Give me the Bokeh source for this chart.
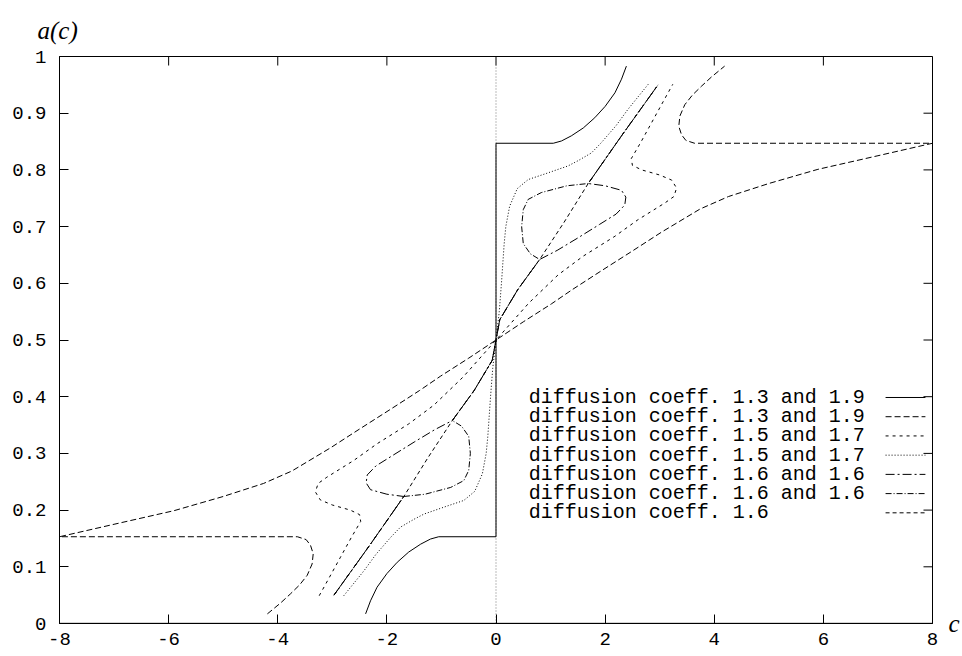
from bokeh.plotting import figure
from bokeh.models import FixedTicker, LinearAxis, Title
from bokeh.core.properties import value
from bokeh.embed import file_html
from bokeh.resources import INLINE

# ---------------- data ----------------
x_ticks = [-8, -6, -4, -2, 0, 2, 4, 6, 8]
x_tick_labels = ["-8", "-6", "-4", "-2", "0", "2", "4", "6", "8"]
y_ticks = [0, 0.1, 0.2, 0.3, 0.4, 0.5, 0.6, 0.7, 0.8, 0.9, 1]
y_tick_labels = ["0", "0.1", "0.2", "0.3", "0.4", "0.5", "0.6", "0.7", "0.8", "0.9", "1"]
x_name = "c"
y_name = "a(c)"

legend_labels = [
    "diffusion coeff. 1.3 and 1.9",
    "diffusion coeff. 1.3 and 1.9",
    "diffusion coeff. 1.5 and 1.7",
    "diffusion coeff. 1.5 and 1.7",
    "diffusion coeff. 1.6 and 1.6",
    "diffusion coeff. 1.6 and 1.6",
    "diffusion coeff. 1.6",
]

# 1.3 and 1.9 (solid)
s1_x = [-2.39, -2.30, -2.18, -2.00, -1.81, -1.60, -1.38, -1.20, -1.05, 0.0,
        0.0, 1.05, 1.20, 1.38, 1.60, 1.81, 2.00, 2.18, 2.30, 2.39]
s1_y = [0.017, 0.040, 0.064, 0.088, 0.108, 0.126, 0.140, 0.149, 0.153, 0.153,
        0.847, 0.847, 0.851, 0.860, 0.874, 0.892, 0.912, 0.936, 0.960, 0.983]

# 1.3 and 1.9 (dashed)
s2_x = [-4.19, -3.95, -3.77, -3.60, -3.46, -3.37, -3.35, -3.40, -3.48, -3.64,
        -8.00, -7.00, -5.90, -5.00, -4.26, -3.74, -3.03, -2.50, -1.93, -1.40,
        -1.02, -0.50, 0.00, 0.50, 1.02, 1.40, 1.93, 2.50, 3.03, 3.74,
        4.26, 5.00, 5.90, 7.00, 8.00, 3.64, 3.48, 3.40, 3.35, 3.37,
        3.46, 3.60, 3.77, 3.95, 4.19]
s2_y = [0.017, 0.036, 0.052, 0.068, 0.085, 0.105, 0.123, 0.138, 0.148, 0.153,
        0.153, 0.175, 0.199, 0.224, 0.247, 0.269, 0.310, 0.343, 0.378, 0.411,
        0.436, 0.468, 0.500, 0.532, 0.564, 0.589, 0.622, 0.657, 0.690, 0.731,
        0.753, 0.776, 0.801, 0.825, 0.847, 0.847, 0.852, 0.862, 0.877, 0.895,
        0.915, 0.932, 0.948, 0.964, 0.983]

# 1.5 and 1.7 (short dashes)
s3_x = [-3.24, -3.05, -2.85, -2.65, -2.48, -2.50, -2.67, -3.00, -3.22, -3.31,
        -3.26, -3.10, -2.60, -2.18, -1.60, -1.14, -0.60, 0.00, 0.60, 1.14,
        1.60, 2.18, 2.60, 3.10, 3.26, 3.31, 3.22, 3.00, 2.67, 2.50,
        2.48, 2.65, 2.85, 3.05, 3.24]
s3_y = [0.049, 0.082, 0.117, 0.152, 0.180, 0.192, 0.200, 0.209, 0.218, 0.232,
        0.247, 0.258, 0.288, 0.317, 0.352, 0.385, 0.435, 0.500, 0.565, 0.615,
        0.648, 0.683, 0.712, 0.742, 0.753, 0.768, 0.782, 0.791, 0.800, 0.808,
        0.820, 0.848, 0.883, 0.918, 0.951]

# 1.5 and 1.7 (dotted)
s4_x = [-2.79, -2.42, -2.20, -1.93, -1.75, -1.50, -1.32, -0.90, -0.59, -0.39,
        -0.25, -0.18, -0.15, -0.10, -0.06, 0.00, 0.06, 0.10, 0.15, 0.18,
        0.25, 0.39, 0.59, 0.90, 1.32, 1.50, 1.75, 1.93, 2.20, 2.42, 2.79]
s4_y = [0.049, 0.093, 0.122, 0.152, 0.170, 0.184, 0.193, 0.207, 0.217, 0.233,
        0.264, 0.300, 0.330, 0.400, 0.450, 0.500, 0.550, 0.600, 0.670, 0.700,
        0.736, 0.767, 0.783, 0.793, 0.807, 0.816, 0.830, 0.848, 0.878, 0.907, 0.951]

# 1.6 and 1.6 (first branch)
s5_x = [-2.97, -2.30, -1.69, -2.00, -2.30, -2.38, -2.36, -2.20, -1.90, -1.50,
        -1.12, -0.80, -0.40, -0.07, 0.00, 0.07, 0.40, 0.80, 1.12, 1.50,
        1.90, 2.20, 2.36, 2.38, 2.30, 2.00, 1.69, 2.30, 2.97]
s5_y = [0.050, 0.140, 0.224, 0.228, 0.236, 0.248, 0.262, 0.278, 0.296, 0.320,
        0.342, 0.358, 0.411, 0.464, 0.500, 0.536, 0.589, 0.642, 0.658, 0.680,
        0.704, 0.722, 0.738, 0.752, 0.764, 0.772, 0.776, 0.860, 0.950]

# 1.6 and 1.6 (second branch)
s6_x = [-2.97, -2.30, -1.69, -1.30, -0.83, -0.59, -0.50, -0.47, -0.50, -0.63,
        -0.80, -0.40, -0.07, 0.00, 0.07, 0.40, 0.80, 0.63, 0.50, 0.47,
        0.50, 0.59, 0.83, 1.30, 1.69, 2.30, 2.97]
s6_y = [0.050, 0.140, 0.224, 0.228, 0.240, 0.252, 0.270, 0.300, 0.330, 0.348,
        0.358, 0.411, 0.464, 0.500, 0.536, 0.589, 0.642, 0.652, 0.670, 0.700,
        0.730, 0.748, 0.760, 0.772, 0.776, 0.860, 0.950]

# 1.6
s7_x = [-2.97, -2.30, -1.69, -1.25, -0.80, -0.40, -0.07, 0.00, 0.07, 0.40,
        0.80, 1.25, 1.69, 2.30, 2.97]
s7_y = [0.050, 0.140, 0.224, 0.292, 0.358, 0.411, 0.464, 0.500, 0.536, 0.589,
        0.642, 0.708, 0.776, 0.860, 0.950]

series_x = [s1_x, s2_x, s3_x, s4_x, s5_x, s6_x, s7_x]
series_y = [s1_y, s2_y, s3_y, s4_y, s5_y, s6_y, s7_y]

# ---------------- styles ----------------
dashes = ["solid", "6 3", "3 4", "1 2", "9 3 2 3", "6 2 1 2", "4 3"]
MONO = "Liberation Mono"
SERIF = "Liberation Serif"
X0, X1, Y0, Y1 = -8, 8, 0, 1
TICK_DX = 9 / 54.56   # 9 px inward tick, in data units
TICK_DY = 9 / 567.0

p = figure(width=962, height=656, x_range=(X0, X1), y_range=(Y0, Y1),
           output_backend="svg", toolbar_location=None,
           min_border_left=59, min_border_right=30,
           min_border_top=56, min_border_bottom=33)
p.background_fill_color = "white"
p.border_fill_color = "white"
p.outline_line_color = "black"
p.outline_line_width = 1
p.grid.visible = False

def style_axis(ax, ticks, labels):
    ax.ticker = FixedTicker(ticks=ticks)
    ax.major_label_overrides = {t: l for t, l in zip(ticks, labels)}
    ax.major_tick_in = 9
    ax.major_tick_out = 0
    ax.minor_tick_in = 0
    ax.minor_tick_out = 0
    ax.major_tick_line_color = "black"
    ax.axis_line_color = "black"
    ax.major_label_text_font = MONO
    ax.major_label_text_font_size = "19px"
    ax.major_label_text_color = "black"

style_axis(p.xaxis[0], x_ticks, x_tick_labels)
p.xaxis[0].major_label_standoff = 9
style_axis(p.yaxis[0], y_ticks, y_tick_labels)
p.yaxis[0].major_label_standoff = 13

# right axis only carries the horizontal axis name "c" at the bottom
right = LinearAxis(ticker=FixedTicker(ticks=[]), axis_line_color=None,
                   major_tick_in=0, major_tick_out=0, minor_tick_in=0, minor_tick_out=0,
                   axis_label=x_name, axis_label_orientation="horizontal",
                   axis_label_align="start", axis_label_standoff=16,
                   axis_label_text_font=SERIF, axis_label_text_font_style="italic",
                   axis_label_text_font_size="25px", axis_label_text_color="black")
p.add_layout(right, "right")

# y-axis name above the plot, top-left
p.add_layout(Title(text=y_name, align="left", offset=-22, standoff=26,
                   text_font=SERIF, text_font_style="italic", text_font_size="25px",
                   text_color="black"), "above")

# mirrored inward ticks on top and right
p.segment(x0=x_ticks, y0=[Y1] * len(x_ticks), x1=x_ticks, y1=[Y1 - TICK_DY] * len(x_ticks),
          line_color="black", line_width=1)
p.segment(x0=[X1] * len(y_ticks), y0=y_ticks, x1=[X1 - TICK_DX] * len(y_ticks), y1=y_ticks,
          line_color="black", line_width=1)

# zero axes (dotted)
p.line([0, 0], [Y0, Y1], line_color="#777777", line_dash="1 2", line_width=1)
p.line([X0, X1], [0, 0], line_color="#555555", line_dash="1 1", line_width=2)

for xs, ys, d in zip(series_x, series_y, dashes):
    p.line(xs, ys, line_color="black", line_width=1, line_dash=d)

# legend (text then line sample, gnuplot style)
leg_text_x = 0.6
leg_x0, leg_x1 = 7.14, 7.87
leg_y0, leg_dy = 0.3986, 0.0339
leg_ys = [leg_y0 - i * leg_dy for i in range(len(legend_labels))]
p.text(x=[leg_text_x] * len(legend_labels), y=leg_ys, text=legend_labels,
       text_font=value(MONO), text_font_size="20px", text_baseline="middle",
       text_align="left", text_color="black")
for ly, d in zip(leg_ys, dashes):
    p.line([leg_x0, leg_x1], [ly, ly], line_color="black", line_width=1, line_dash=d)

open("out.html", "w").write(file_html(p, INLINE))
